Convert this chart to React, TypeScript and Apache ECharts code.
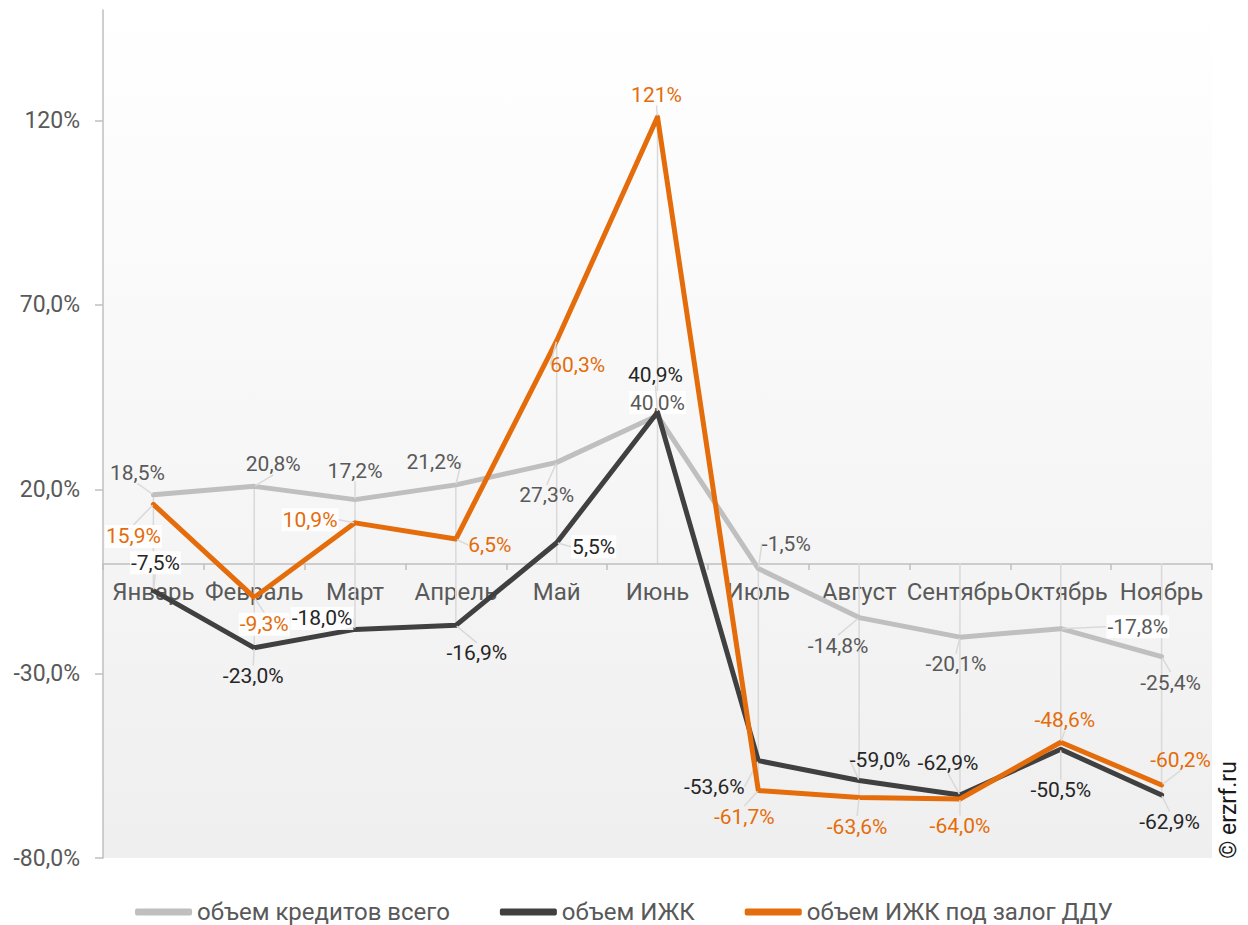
import React, { useEffect, useRef } from "react";
import * as echarts from "echarts";

const categories = ["Январь", "Февраль", "Март", "Апрель", "Май", "Июнь", "Июль", "Август", "Сентябрь", "Октябрь", "Ноябрь"];
const seriesNames = ["объем кредитов всего", "объем ИЖК", "объем ИЖК под залог ДДУ"];
const totalLoans = [18.5, 20.8, 17.2, 21.2, 27.3, 40.0, -1.5, -14.8, -20.1, -17.8, -25.4];
const izhk = [-7.5, -23.0, -18.0, -16.9, 5.5, 40.9, -53.6, -59.0, -62.9, -50.5, -62.9];
const izhkDdu = [15.9, -9.3, 10.9, 6.5, 60.3, 121, -61.7, -63.6, -64.0, -48.6, -60.2];
const yMin = -80;
const yMax = 150;
const yInterval = 50;

// label placement (pixel offsets from the point) — styling only
const offTotal = [[-16, -22], [19, -22], [0, -29], [-22, -23], [-10, 33], [0, -13], [28, -25], [-21, 28], [-4, 27], [77, -2], [9, 26]];
const offIzhk = [[2, -28], [-1, 28], [-33, -11], [21, 28], [37, 4], [-2, -37], [-44, 26], [21, -21], [-12, -32], [0, 41], [8, 27]];
const offDdu = [[-20, 32], [10, 27], [-45, -3], [34, 6], [21, 24], [-1, -22], [-14, 26], [-2, 29], [0, 27], [4, -22], [19, -25]];
const bgTotal = [0, 0, 0, 0, 0, 1, 0, 0, 0, 1, 0];
const bgIzhk = [1, 0, 1, 0, 1, 0, 0, 0, 0, 0, 0];
const bgDdu = [1, 1, 1, 0, 0, 0, 0, 0, 0, 0, 0];

const fmt = (v: number) => (Math.abs(v) >= 100 ? v.toFixed(0) : v.toFixed(1)).replace(".", ",") + "%";

const FONT = "Roboto, 'Noto Sans', sans-serif";

function makeLine(name: string, values: number[], color: string, labelColor: string, offs: number[][], bg: number[], z: number) {
  return {
    name,
    type: "line",
    z,
    data: values.map((v, i) => ({
      value: v,
      label: bg[i] ? { backgroundColor: "rgba(255,255,255,0.9)" } : undefined,
    })),
    symbol: "circle",
    symbolSize: 2,
    itemStyle: { color },
    lineStyle: { color, width: 5, cap: "round", join: "round" },
    label: {
      show: true,
      position: "inside",
      formatter: (p: any) => fmt(p.value),
      color: labelColor,
      fontSize: 21,
      fontFamily: FONT,
      padding: [1, 1],
    },
    labelLine: { show: true, lineStyle: { color: "#d9d9d9", width: 1.5 } },
    labelLayout: (params: any) => {
      const o = offs[params.dataIndex];
      const r = params.rect;
      return {
        x: r.x + r.width / 2 + o[0],
        y: r.y + r.height / 2 + o[1],
        align: "center",
        verticalAlign: "middle",
      };
    },
  };
}

export default function App() {
  const ref = useRef<HTMLDivElement>(null);
  useEffect(() => {
    document.body.style.margin = "0";
    const chart = echarts.init(ref.current!, null, { renderer: "svg" });
    const dropData = categories.map((_, i) => {
      const vals = [totalLoans[i], izhk[i], izhkDdu[i]];
      return [i, Math.max(0, ...vals), Math.min(0, ...vals)];
    });
    chart.setOption({
      animation: false,
      textStyle: { fontFamily: FONT },
      grid: {
        left: 103,
        right: 36,
        top: 10,
        bottom: 67,
        show: true,
        borderWidth: 0,
        backgroundColor: new echarts.graphic.LinearGradient(0, 0, 0, 1, [
          { offset: 0, color: "#ffffff" },
          { offset: 1, color: "#efefef" },
        ]),
      },
      legend: {
        data: seriesNames,
        top: 895,
        left: "center",
        icon: "roundRect",
        itemWidth: 57,
        itemHeight: 7,
        itemGap: 50,
        textStyle: {
          fontSize: 24,
          color: "#595959",
          fontFamily: FONT,
        },
      },
      xAxis: {
        type: "category",
        data: categories,
        offset: -294,
        axisLine: { onZero: false, lineStyle: { color: "#bfbfbf", width: 1.5 } },
        axisTick: { show: true, length: 6, lineStyle: { color: "#bfbfbf", width: 1.5 } },
        axisLabel: { color: "#595959", fontSize: 24, margin: 16, interval: 0, fontFamily: FONT },
        splitLine: { show: false },
      },
      yAxis: {
        type: "value",
        min: yMin,
        max: yMax,
        interval: yInterval,
        axisLine: { show: true, lineStyle: { color: "#bfbfbf", width: 1.5 } },
        axisTick: { show: true, length: 8, lineStyle: { color: "#bfbfbf", width: 1.5 } },
        axisLabel: { color: "#595959", fontSize: 23, margin: 23, showMaxLabel: false, formatter: (v: number) => fmt(v), fontFamily: FONT },
        splitLine: { show: false },
      },
      series: [
        {
          type: "custom",
          name: "drop",
          z: 1,
          silent: true,
          data: dropData,
          encode: { x: 0, y: [1, 2] },
          renderItem: (params: any, api: any) => {
            const a = api.coord([api.value(0), api.value(1)]);
            const b = api.coord([api.value(0), api.value(2)]);
            return {
              type: "line",
              shape: { x1: a[0], y1: a[1], x2: b[0], y2: b[1] },
              style: { stroke: "#d9d9d9", lineWidth: 1.5 },
            };
          },
        },
        makeLine(seriesNames[0], totalLoans, "#bfbfbf", "#595959", offTotal, bgTotal, 2),
        makeLine(seriesNames[1], izhk, "#404040", "#262626", offIzhk, bgIzhk, 3),
        makeLine(seriesNames[2], izhkDdu, "#e46c0a", "#e46c0a", offDdu, bgDdu, 4),
      ],
      graphic: [
        {
          type: "text",
          x: 1228,
          y: 810,
          rotation: Math.PI / 2,
          style: {
            text: "© erzrf.ru",
            fill: "#1a1a1a",
            fontSize: 23,
            fontFamily: FONT,
            align: "center",
            verticalAlign: "middle",
          },
        },
      ],
    });
    return () => chart.dispose();
  }, []);
  return <div ref={ref} style={{ width: 1248, height: 925 }} />;
}
